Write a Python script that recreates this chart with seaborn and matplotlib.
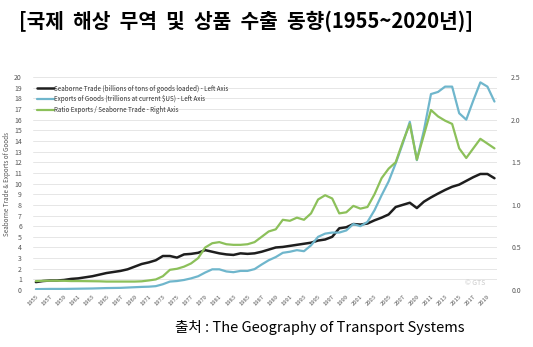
import numpy as np
import pandas as pd
import matplotlib
matplotlib.use("Agg")
import matplotlib.pyplot as plt
import seaborn as sns

# Annual series, 1955-2020
years = list(range(1955, 2021))

seaborne_trade = [  # billions of tons of goods loaded
    0.75, 0.85, 0.9, 0.9, 0.95, 1.05, 1.1, 1.2, 1.3, 1.45,
    1.6, 1.7, 1.8, 1.95, 2.2, 2.45, 2.6, 2.8, 3.2, 3.2,
    3.05, 3.35, 3.4, 3.5, 3.75, 3.6, 3.45, 3.35, 3.3, 3.45,
    3.4, 3.45, 3.6, 3.8, 4.0, 4.05, 4.15, 4.25, 4.35, 4.45,
    4.65, 4.75, 5.0, 5.8, 5.9, 6.2, 6.15, 6.25, 6.55, 6.8,
    7.1, 7.8, 8.0, 8.2, 7.7, 8.3, 8.7, 9.06, 9.4, 9.7,
    9.9, 10.25, 10.6, 10.9, 10.9, 10.5,
]

exports_goods = [  # trillions at current $US
    0.09, 0.1, 0.11, 0.11, 0.11, 0.12, 0.13, 0.14, 0.15, 0.17,
    0.19, 0.2, 0.21, 0.24, 0.27, 0.3, 0.32, 0.37, 0.55, 0.8,
    0.85, 0.95, 1.1, 1.3, 1.65, 1.95, 1.95, 1.75, 1.68, 1.8,
    1.8, 1.97, 2.4, 2.8, 3.1, 3.5, 3.6, 3.75, 3.65, 4.2,
    5.0, 5.3, 5.4, 5.4, 5.6, 6.2, 6.0, 6.4, 7.5, 8.9,
    10.2, 11.9, 13.75, 15.8, 12.2, 15.0, 18.4, 18.6, 19.1, 19.1,
    16.6, 16.0, 17.8, 19.5, 19.1, 17.7,
]

ratio = [  # exports / seaborne trade (right axis)
    0.106, 0.109, 0.11, 0.11, 0.109, 0.106, 0.106, 0.105, 0.104, 0.103,
    0.10, 0.10, 0.10, 0.10, 0.10, 0.103, 0.113, 0.125, 0.163, 0.238,
    0.25, 0.275, 0.313, 0.375, 0.50, 0.55, 0.563, 0.538, 0.531, 0.531,
    0.538, 0.563, 0.625, 0.688, 0.713, 0.825, 0.813, 0.85, 0.825, 0.90,
    1.063, 1.113, 1.075, 0.90, 0.913, 0.988, 0.956, 0.975, 1.125, 1.313,
    1.425, 1.50, 1.738, 1.95, 1.53, 1.82, 2.113, 2.038, 1.988, 1.95,
    1.663, 1.55, 1.663, 1.775, 1.719, 1.663,
]

x_tick_years = list(range(1955, 2020, 2))
left_ticks = list(range(0, 21))
right_ticks = [0.0, 0.5, 1.0, 1.5, 2.0, 2.5]

labels = [
    "Seaborne Trade (billions of tons of goods loaded) - Left Axis",
    "Exports of Goods (trillions at current $US) - Left Axis",
    "Ratio Exports / Seaborne Trade - Right Axis",
]
title = "[국제  해상  무역  및  상품  수출  동향(1955~2020년)]"
source = "출처 : The Geography of Transport Systems"

df = pd.DataFrame({"year": years, "trade": seaborne_trade,
                   "exports": exports_goods, "ratio": ratio})

sns.set_theme(style="white")
plt.rcParams["font.family"] = ["Noto Sans CJK KR", "DejaVu Sans"]

c_black = "#1e1e1e"
c_blue = "#6fb6cc"
c_green = "#8cc05a"
c_tick = "#555555"

fig = plt.figure(figsize=(5.33, 3.47), dpi=100)
fig.patch.set_facecolor("white")
ax = fig.add_axes([0.062, 0.164, 0.871, 0.614])
ax2 = ax.twinx()

sns.lineplot(data=df, x="year", y="trade", ax=ax, color=c_black, lw=1.8,
             label=labels[0], legend=False)
sns.lineplot(data=df, x="year", y="exports", ax=ax, color=c_blue, lw=1.6,
             label=labels[1], legend=False)
sns.lineplot(data=df, x="year", y="ratio", ax=ax2, color=c_green, lw=1.6,
             label=labels[2], legend=False)

ax.set_xlim(1954.6, 2020.4)
ax.set_ylim(0, 20)
ax2.set_ylim(0, 2.5)

ax.set_yticks(left_ticks)
ax.set_yticklabels([str(v) for v in left_ticks])
ax2.set_yticks(right_ticks)
ax2.set_yticklabels([f"{v:.1f}" for v in right_ticks])
ax.set_xticks(x_tick_years)
ax.set_xticklabels([str(y) for y in x_tick_years], rotation=45,
                   ha="right", rotation_mode="anchor")

for a in (ax, ax2):
    for s in a.spines.values():
        s.set_visible(False)
    a.tick_params(length=0, labelsize=5, colors=c_tick)
    a.set_xlabel("")
    a.set_ylabel("")
ax.tick_params(axis="x", labelsize=4.2, pad=3)
ax.tick_params(axis="y", pad=8)
ax2.tick_params(axis="y", pad=10)

ax.grid(axis="y", color="#e6e6e6", lw=0.7)
ax.set_axisbelow(True)

ax.set_ylabel("Seaborne Trade & Exports of Goods", fontsize=4.5,
              color=c_tick, labelpad=2)

handles = ax.get_lines()[:2] + ax2.get_lines()[:1]
leg = ax.legend(handles, labels, loc="upper left", bbox_to_anchor=(0.0, 0.985),
                fontsize=4.5, frameon=False, handlelength=2.6,
                handletextpad=0.1, labelspacing=0.45, borderaxespad=0.3)
for t in leg.get_texts():
    t.set_color("#333333")

ax.text(0.975, 0.015, "© GTS", transform=ax.transAxes, ha="right",
        va="bottom", fontsize=5, color="#c8c8c8")

fig.text(0.036, 0.94, title, fontsize=14.6, fontweight="bold",
         color="black", ha="left", va="center")
fig.text(0.328, 0.057, source, fontsize=10.5, color="black",
         ha="left", va="center")

fig.savefig("out.png", dpi=100, facecolor="white")
